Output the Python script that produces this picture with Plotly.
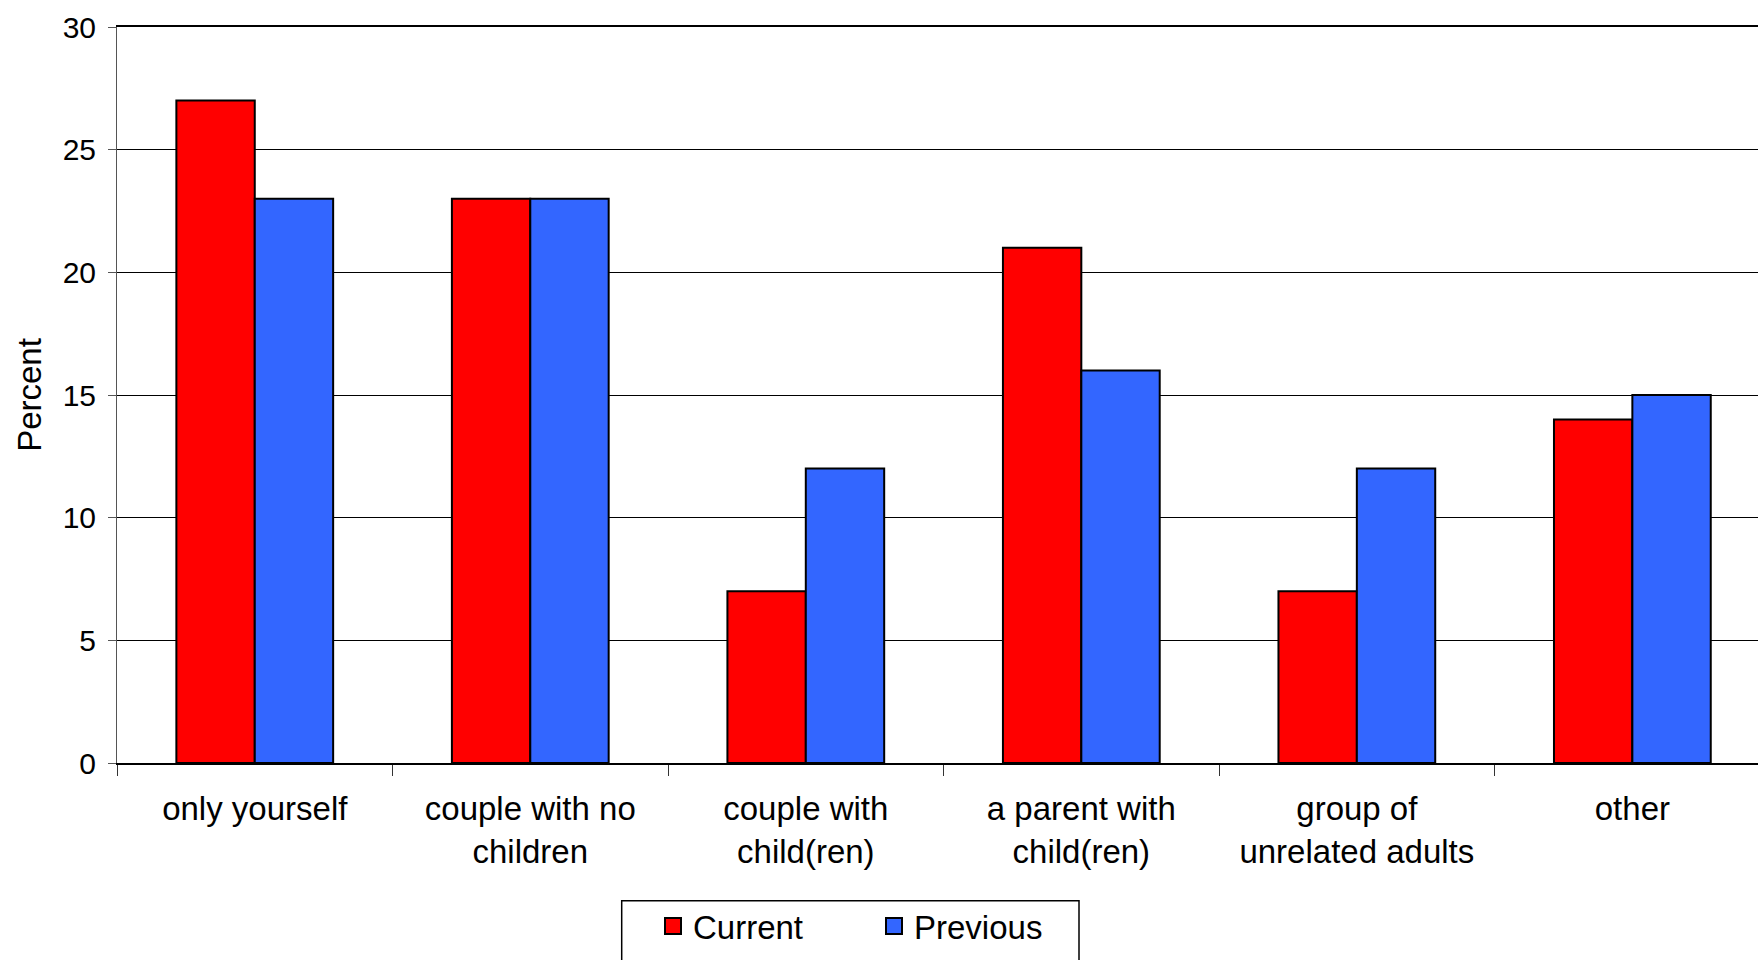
import plotly.graph_objects as go

categories = ["only yourself", "couple with no<br>children", "couple with<br>child(ren)",
              "a parent with<br>child(ren)", "group of<br>unrelated adults", "other"]
current = [27, 23, 7, 21, 7, 14]
previous = [23, 23, 12, 16, 12, 15]
series_names = ["Current", "Previous"]
series_colors = ["#FF0000", "#3366FF"]
y_ticks = [0, 5, 10, 15, 20, 25, 30]

W, H = 1758, 960
L, R, T, B = 117, 0, 27, 197
pw = W - L - R
ph = H - T - B

def px_x(px):
    return (px - L) / pw

def px_y(py):
    return (H - B - py) / ph

font = "Liberation Sans, Arial, sans-serif"

fig = go.Figure()
for name, vals, col in zip(series_names, [current, previous], series_colors):
    fig.add_trace(go.Bar(x=categories, y=vals, name=name, showlegend=False,
                         marker=dict(color=col, line=dict(color="black", width=2))))
# legend entries (square swatches like the original)
for name, col in zip(series_names, series_colors):
    fig.add_trace(go.Scatter(x=[None], y=[None], name=name, mode="markers",
                             marker=dict(symbol="square", size=16, color=col,
                                         line=dict(color="black", width=2))))

fig.update_layout(
    width=W, height=H,
    margin=dict(l=L, r=R, t=T, b=B, autoexpand=False),
    paper_bgcolor="white", plot_bgcolor="white",
    font=dict(family=font, color="black", size=32),
    barmode="group", bargap=0.431, bargroupgap=0,
    showlegend=True,
    legend=dict(orientation="h", x=px_x(653), y=px_y(898), xanchor="left", yanchor="top",
                font=dict(size=33, family=font), borderwidth=0, bgcolor="rgba(0,0,0,0)",
                entrywidth=176, traceorder="normal", itemsizing="trace"),
    shapes=[dict(type="rect", xref="paper", yref="paper",
                 x0=px_x(621.7), x1=px_x(1079), y0=px_y(900.7), y1=px_y(1000),
                 line=dict(color="black", width=1.5), fillcolor="rgba(0,0,0,0)", layer="below")],
)

fig.update_xaxes(
    type="category", range=[-0.5, 5.456],
    showline=True, linecolor="black", linewidth=2, mirror=True,
    ticks="outside", tickson="boundaries", ticklen=11, tickcolor="#333", tickwidth=1,
    tickfont=dict(size=33, family=font), ticklabelstandoff=15,
    showgrid=False, automargin=False,
)
fig.update_yaxes(
    range=[0, 30], tickvals=y_ticks, ticktext=[str(v) for v in y_ticks],
    showline=True, linecolor="#555", linewidth=1,
    ticks="outside", ticklen=8, tickcolor="#555", tickwidth=1,
    tickfont=dict(size=30, family=font), ticklabelstandoff=6,
    showgrid=True, gridcolor="black", gridwidth=1,
    zeroline=True, zerolinecolor="black", zerolinewidth=1,
    title=dict(text="Percent", font=dict(size=33, family=font), standoff=11),
    automargin=False,
)

fig.write_html("out.html", config={"displayModeBar": False},
               post_script="document.body.style.margin='0';document.body.style.overflow='hidden';")
